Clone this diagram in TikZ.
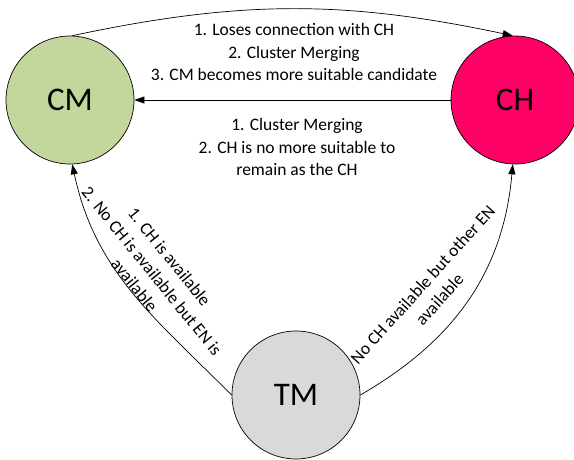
\documentclass[tikz,border=0pt]{standalone}
\usepackage{fontspec}
\setmainfont{Carlito}
\usetikzlibrary{arrows.meta}
\definecolor{cmgreen}{RGB}{195,214,155}
\definecolor{chpink}{RGB}{255,0,102}
\definecolor{tmgrey}{RGB}{217,217,217}
\begin{document}
\begin{tikzpicture}[x=1pt,y=1pt,
  state/.style={circle,draw=black,line width=0.7pt,minimum size=128pt,inner sep=0pt,
    font=\fontsize{33}{36}\selectfont},
  lbl/.style={align=center,inner sep=0pt,font=\fontsize{17.5}{22.5}\selectfont},
  conn/.style={line width=0.7pt,-{Triangle[length=10pt,width=7pt]}}]
\useasboundingbox (0,0) rectangle (574,-460);
\node[state,fill=cmgreen] (CM) at (70,-100) {CM};
\node[state,fill=chpink] (CH) at (515,-100) {CH};
\node[state,fill=tmgrey] (TM) at (296,-395) {TM};
\draw[conn] (CM.88) to[out=12,in=168] (CH.92);
\draw[conn] (CH.west) -- (CM.east);
\draw[conn] (TM.west) to[out=135,in=-78] (CM.-88);
\draw[conn] (TM.east) to[out=30,in=-95] (CH.-92);
\node[lbl] (l1) at (294,-52) {1. Loses connection with CH\\2. Cluster Merging\\3. CM becomes more suitable candidate};
\node[lbl] (l2) at (297,-147) {1. Cluster Merging\\2. CH is no more suitable to\\remain as the CH};
\node[lbl,rotate=-51] (l3) at (152,-271) {1. CH is available\\2. No CH is available but EN is\\available};
\node[lbl,rotate=48] (l4) at (431,-292) {No CH available but other EN\\available};
\end{tikzpicture}
\end{document}
